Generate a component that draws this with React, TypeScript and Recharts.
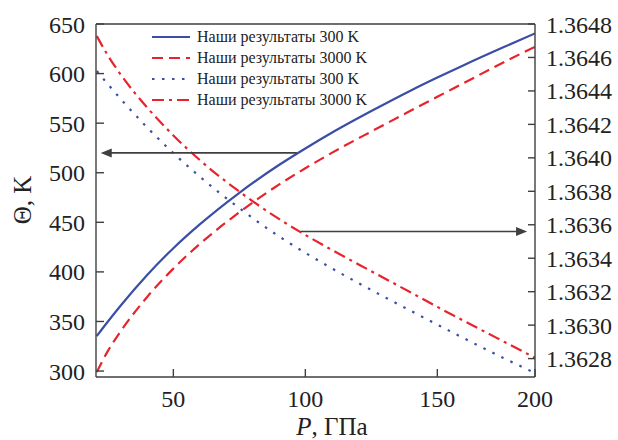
import {
  Legend,
  Line,
  LineChart,
  ReferenceDot,
  ReferenceLine,
  XAxis,
  YAxis,
} from "recharts"

// P positions on the plotted (linear) scale; the figure's last label "200" sits at 187
const pAxis = [21, 25, 30, 40, 50, 60, 75, 90, 100, 110, 125, 140, 150, 160, 175, 187]
const xTicks = [50, 100, 150, 187]
const xTickLabels = ["50", "100", "150", "200"]

// Θ, K (left axis)
const theta300 = [335.3, 349.2, 365.9, 396.7, 423.9, 447.9, 479.8, 507.8, 524.5, 540.3, 562.2, 583.0, 596.0, 608.5, 626.5, 640.5]
const theta3000 = [299.0, 319.3, 339.9, 374.5, 403.3, 428.1, 460.1, 488.0, 504.5, 520.0, 541.6, 562.7, 576.6, 590.4, 611.2, 627.1]

// right axis
const n300 = [1.364519, 1.364444, 1.364353, 1.364183, 1.364028, 1.363888, 1.363699, 1.363531, 1.363432, 1.36334, 1.36321, 1.363085, 1.363003, 1.362922, 1.362804, 1.362714]
const n3000 = [1.364728, 1.364617, 1.364499, 1.364302, 1.364134, 1.363987, 1.363798, 1.363635, 1.363539, 1.36345, 1.363322, 1.363195, 1.363109, 1.363026, 1.362903, 1.362805]

const leftTicks = [300, 350, 400, 450, 500, 550, 600, 650]
const rightTicks = [1.3628, 1.363, 1.3632, 1.3634, 1.3636, 1.3638, 1.364, 1.3642, 1.3644, 1.3646, 1.3648]

const BLUE = "#3b4ea6"
const RED = "#e8232b"
const AXIS = "#3f3f3f"
const FONT = "'Liberation Serif', 'Times New Roman', serif"

const series = [
  { key: "theta300", name: "Наши результаты 300 K", color: BLUE, dash: undefined, axis: "left" },
  { key: "theta3000", name: "Наши результаты 3000 K", color: RED, dash: "11 6", axis: "left" },
  { key: "n300", name: "Наши результаты 300 K", color: BLUE, dash: "2.5 7.5", axis: "right" },
  { key: "n3000", name: "Наши результаты 3000 K", color: RED, dash: "12 5 3 5", axis: "right" },
]

const data = pAxis.map((p, i) => ({
  p,
  theta300: theta300[i],
  theta3000: theta3000[i],
  n300: n300[i],
  n3000: n3000[i],
}))

function LegendBox() {
  return (
    <div style={{ fontFamily: FONT, fontSize: 16, color: "#222", lineHeight: 1 }}>
      {series.map((s) => (
        <div key={s.key} style={{ display: "flex", alignItems: "center", height: 21 }}>
          <svg width={44} height={10} style={{ marginRight: 3 }}>
            <line x1={2} y1={5} x2={40} y2={5} stroke={s.color} strokeWidth={2.2} strokeDasharray={s.dash} />
          </svg>
          <span style={{ fontFamily: FONT }}>{s.name}</span>
        </div>
      ))}
    </div>
  )
}

function arrowLeft({ cx, cy }: { cx: number; cy: number }) {
  return <polygon points={`${cx},${cy} ${cx + 11},${cy - 4.5} ${cx + 11},${cy + 4.5}`} fill={AXIS} />
}

function arrowRight({ cx, cy }: { cx: number; cy: number }) {
  return <polygon points={`${cx},${cy} ${cx - 11},${cy - 4.5} ${cx - 11},${cy + 4.5}`} fill={AXIS} />
}

const tickStyle = { fill: "#222", fontSize: 24, fontFamily: FONT }

export default function App() {
  return (
    <div style={{ position: "absolute", left: 0, top: 0, background: "#fff" }}>
      <LineChart width={618} height={440} data={data} margin={{ top: 24, right: 8, bottom: 23, left: 26 }}>
        <XAxis
          dataKey="p"
          type="number"
          domain={[20.7, 187]}
          allowDataOverflow
          ticks={xTicks}
          tickFormatter={(v) => xTickLabels[xTicks.indexOf(v)] ?? String(v)}
          tick={tickStyle}
          tickSize={-8}
          tickMargin={21}
          stroke={AXIS}
          strokeWidth={1.4}
          height={40}
          label={{
            content: () => (
              <text x={332} y={435} textAnchor="middle" fontFamily={FONT} fontSize={25} fill="#222">
                <tspan fontStyle="italic">P</tspan>, ГПа
              </text>
            ),
          }}
        />
        <YAxis
          yAxisId="left"
          domain={[294, 650]}
          allowDataOverflow
          ticks={leftTicks}
          tick={tickStyle}
          tickSize={-8}
          tickMargin={19}
          stroke={AXIS}
          strokeWidth={1.4}
          width={70}
          label={{
            content: () => (
              <text x={31} y={200} textAnchor="middle" transform="rotate(-90 31 200)" fontFamily={FONT} fontSize={25} fill="#222">
                Θ, K
              </text>
            ),
          }}
        />
        <YAxis
          yAxisId="right"
          orientation="right"
          domain={[1.36269, 1.3648]}
          allowDataOverflow
          ticks={rightTicks}
          tickFormatter={(v) => Number(v).toFixed(4)}
          tick={tickStyle}
          tickSize={-7}
          tickMargin={18}
          stroke={AXIS}
          strokeWidth={1.4}
          width={75}
        />
        <ReferenceLine yAxisId="left" y={650} stroke={AXIS} strokeWidth={1.4} />
        <Legend
          verticalAlign="middle"
          align="center"
          layout="vertical"
          content={() => <LegendBox />}
          wrapperStyle={{ left: 150, top: 26, width: 270, margin: 0 }}
        />
        {series.map((s) => (
          <Line
            key={s.key}
            yAxisId={s.axis}
            dataKey={s.key}
            name={s.name}
            type="monotone"
            stroke={s.color}
            strokeWidth={2.2}
            strokeDasharray={s.dash}
            dot={false}
            activeDot={false}
            isAnimationActive={false}
          />
        ))}
        <ReferenceLine
          yAxisId="left"
          segment={[{ x: 96.8, y: 520 }, { x: 24.5, y: 520 }]}
          stroke={AXIS}
          strokeWidth={1.6}
        />
        <ReferenceDot yAxisId="left" x={22.5} y={520} shape={arrowLeft} />
        <ReferenceLine
          yAxisId="right"
          segment={[{ x: 98.2, y: 1.36356 }, { x: 182, y: 1.36356 }]}
          stroke={AXIS}
          strokeWidth={1.6}
        />
        <ReferenceDot yAxisId="right" x={184} y={1.36356} shape={arrowRight} />
      </LineChart>
    </div>
  )
}
